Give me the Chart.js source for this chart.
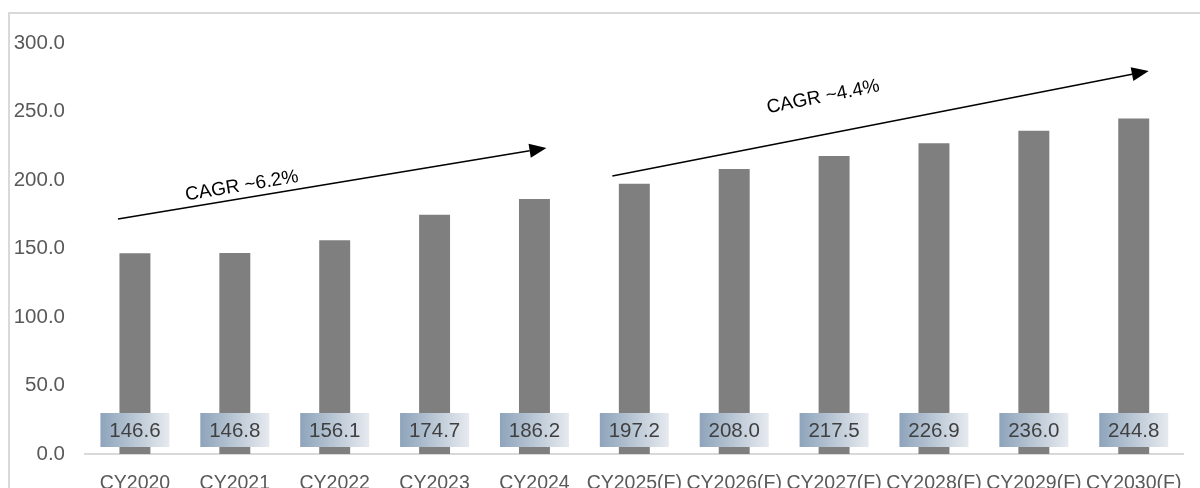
<!DOCTYPE html>
<html>
<head>
<meta charset="utf-8">
<script src="https://cdn.jsdelivr.net/npm/chart.js@4/dist/chart.umd.min.js"></script>
<style>
  html, body { margin: 0; padding: 0; background: #ffffff; }
  #wrap { width: 1200px; height: 488px; position: relative; }
</style>
</head>
<body>
<div id="wrap"><canvas id="chart" width="1200" height="488"></canvas></div>
<script>
// Market size by calendar year, actuals and forecasts
const categories = ['CY2020', 'CY2021', 'CY2022', 'CY2023', 'CY2024',
  'CY2025(F)', 'CY2026(F)', 'CY2027(F)', 'CY2028(F)', 'CY2029(F)', 'CY2030(F)'];
const values = [146.6, 146.8, 156.1, 174.7, 186.2, 197.2, 208.0, 217.5, 226.9, 236.0, 244.8];
const yTicks = [0, 50, 100, 150, 200, 250, 300];

// Growth arrows, given in axis units: [category index, value]
const cagrText = ['CAGR ~6.2%', 'CAGR ~4.4%'];
const arrowFrom = [[-0.17, 171.5], [4.78, 202.9]];
const arrowTo = [[4.12, 223.4], [10.15, 279.6]];
const textAt = [[1.07, 195.6], [6.89, 260.6]];

const FONT = '"Liberation Sans", Arial, sans-serif';

// Light frame around the whole figure
const framePlugin = {
  id: 'frame',
  beforeDraw(chart) {
    const ctx = chart.ctx;
    ctx.save();
    ctx.strokeStyle = '#d9d9d9';
    ctx.lineWidth = 2;
    ctx.strokeRect(9, 13, 1400, 800);
    ctx.restore();
  }
};

// Value tags near the base of each bar
const tagPlugin = {
  id: 'tags',
  afterDatasetsDraw(chart) {
    const ctx = chart.ctx;
    const meta = chart.getDatasetMeta(0);
    const base = chart.scales.y.getPixelForValue(0);
    const w = 69, h = 34;
    ctx.save();
    meta.data.forEach((bar, i) => {
      const x0 = bar.x - w / 2;
      const y0 = base - 7 - h;
      const g = ctx.createLinearGradient(x0, 0, x0 + w, 0);
      g.addColorStop(0, '#8ea4bb');
      g.addColorStop(1, '#e6eaef');
      ctx.fillStyle = g;
      ctx.fillRect(x0, y0, w, h);
      ctx.fillStyle = '#404040';
      ctx.font = '20.5px ' + FONT;
      ctx.textAlign = 'center';
      ctx.textBaseline = 'middle';
      ctx.fillText(values[i].toFixed(1), bar.x, y0 + h / 2 + 1);
    });
    ctx.restore();
  }
};

// CAGR arrows with their captions
const arrowPlugin = {
  id: 'arrows',
  afterDraw(chart) {
    const ctx = chart.ctx;
    const sx = chart.scales.x, sy = chart.scales.y;
    const px = p => [sx.getPixelForValue(p[0]), sy.getPixelForValue(p[1])];
    ctx.save();
    cagrText.forEach((label, i) => {
      const [x1, y1] = px(arrowFrom[i]);
      const [x2, y2] = px(arrowTo[i]);
      const ang = Math.atan2(y2 - y1, x2 - x1);
      const headL = 17, headW = 7;
      const bx = x2 - headL * Math.cos(ang), by = y2 - headL * Math.sin(ang);
      ctx.strokeStyle = '#000000';
      ctx.lineWidth = 1.5;
      ctx.beginPath();
      ctx.moveTo(x1, y1);
      ctx.lineTo(bx, by);
      ctx.stroke();
      ctx.fillStyle = '#000000';
      ctx.beginPath();
      ctx.moveTo(x2, y2);
      ctx.lineTo(bx + headW * Math.sin(ang), by - headW * Math.cos(ang));
      ctx.lineTo(bx - headW * Math.sin(ang), by + headW * Math.cos(ang));
      ctx.closePath();
      ctx.fill();

      const [tx, ty] = px(textAt[i]);
      ctx.save();
      ctx.translate(tx, ty);
      ctx.rotate(ang);
      ctx.font = '19px ' + FONT;
      ctx.textAlign = 'center';
      ctx.textBaseline = 'middle';
      ctx.fillText(label, 0, 0);
      ctx.restore();
    });
    ctx.restore();
  }
};

new Chart(document.getElementById('chart'), {
  type: 'bar',
  data: {
    labels: categories,
    datasets: [{
      data: values,
      backgroundColor: '#7f7f7f',
      borderWidth: 0,
      barPercentage: 0.31,
      categoryPercentage: 1.0
    }]
  },
  options: {
    responsive: false,
    animation: false,
    events: [],
    layout: { padding: { left: 10, right: 13, top: 43, bottom: 0 } },
    plugins: { legend: { display: false }, tooltip: { enabled: false } },
    scales: {
      x: {
        grid: { display: false, drawTicks: false },
        border: { display: true, color: '#d9d9d9', width: 2 },
        ticks: {
          color: '#595959',
          font: { family: FONT, size: 19.5 },
          padding: 18,
          maxRotation: 0,
          autoSkip: false
        },
        afterFit(scale) { scale.height = 34; }
      },
      y: {
        min: 0,
        max: 300,
        grid: { display: false, drawTicks: false },
        border: { display: false },
        afterBuildTicks(scale) { scale.ticks = yTicks.map(v => ({ value: v })); },
        ticks: {
          color: '#595959',
          font: { family: FONT, size: 20.5 },
          padding: 20,
          callback: v => Number(v).toFixed(1)
        },
        afterFit(scale) { scale.width = 75; }
      }
    }
  },
  plugins: [framePlugin, tagPlugin, arrowPlugin]
});
</script>
</body>
</html>
